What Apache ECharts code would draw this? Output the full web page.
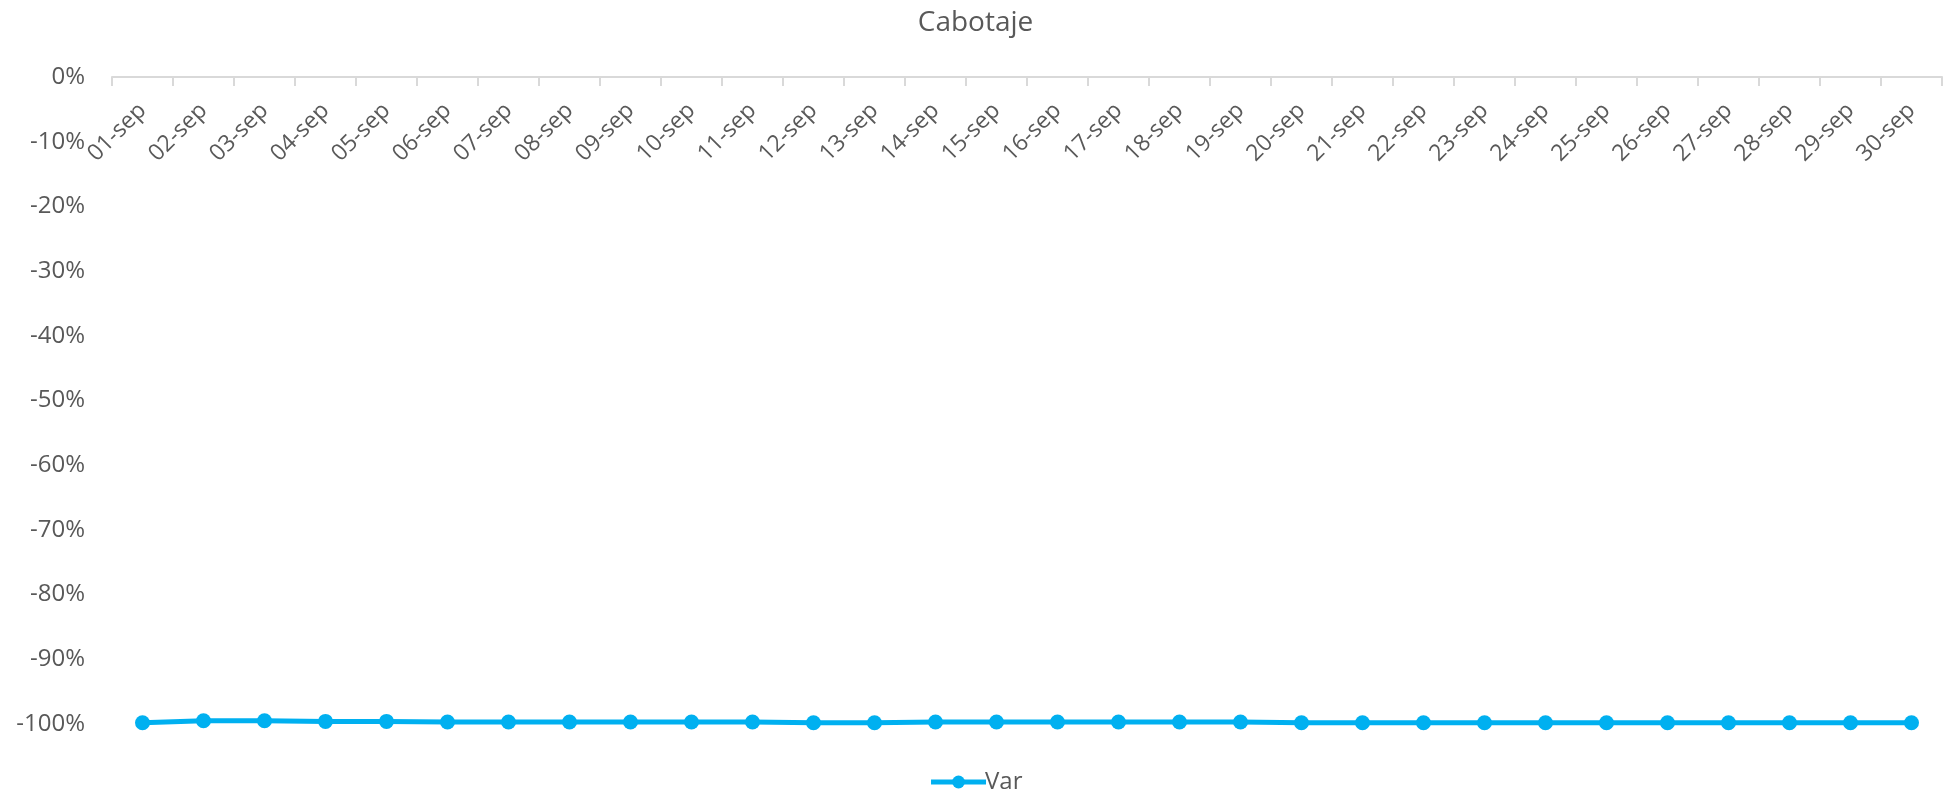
<!DOCTYPE html>
<html>
<head>
<meta charset="utf-8">
<script src="https://cdn.jsdelivr.net/npm/echarts@6/dist/echarts.min.js"></script>
<style>
html,body{margin:0;padding:0;background:#fff;}
#c{width:1951px;height:793px;}
</style>
</head>
<body>
<div id="c"></div>
<script>
const categories = ['01-sep','02-sep','03-sep','04-sep','05-sep','06-sep','07-sep','08-sep','09-sep','10-sep','11-sep','12-sep','13-sep','14-sep','15-sep','16-sep','17-sep','18-sep','19-sep','20-sep','21-sep','22-sep','23-sep','24-sep','25-sep','26-sep','27-sep','28-sep','29-sep','30-sep'];
const varValues = [-99.8,-99.5,-99.5,-99.6,-99.6,-99.7,-99.7,-99.7,-99.7,-99.7,-99.7,-99.8,-99.8,-99.7,-99.7,-99.7,-99.7,-99.7,-99.7,-99.8,-99.8,-99.8,-99.8,-99.8,-99.8,-99.8,-99.8,-99.8,-99.8,-99.8];
const seriesName = 'Var';
const titleText = 'Cabotaje';

const gridTop = 77, gridBottom = 69, H = 793;
const chart = echarts.init(document.getElementById('c'));
const font = '"Open Sans", sans-serif';
chart.setOption({
  animation: false,
  title: {
    text: titleText, left: 'center', top: 4,
    textStyle: {fontFamily: font, fontSize: 28, fontWeight: 'normal', color: '#595959'}
  },
  legend: {
    bottom: -6, left: 'center',
    itemWidth: 55, itemHeight: 16, itemGap: 10,
    lineStyle: {width: 5},
    textStyle: {fontFamily: font, fontSize: 24, color: '#595959', padding: [0,0,0,-6]},
    data: [seriesName]
  },
  grid: {left: 112, right: 9, top: gridTop, bottom: gridBottom, containLabel: false},
  xAxis: {
    type: 'category', data: categories, position: 'bottom',
    offset: -(H - gridTop - gridBottom),
    boundaryGap: true,
    axisLine: {onZero: false, lineStyle: {color: '#d9d9d9', width: 2}},
    axisTick: {show: true, length: 9, lineStyle: {color: '#d9d9d9', width: 2}},
    axisLabel: {interval: 0, rotate: 45, margin: 30, fontFamily: font, fontSize: 23, color: '#595959'},
    splitLine: {show: false}
  },
  yAxis: {
    type: 'value', min: -100, max: 0, interval: 10,
    axisLine: {show: false}, axisTick: {show: false},
    splitLine: {show: false},
    axisLabel: {formatter: '{value}%', margin: 27, fontFamily: font, fontSize: 24, color: '#595959'}
  },
  series: [{
    name: seriesName, type: 'line', data: varValues,
    symbol: 'circle', symbolSize: 15,
    lineStyle: {color: '#00B0F0', width: 5},
    itemStyle: {color: '#00B0F0'}
  }]
});
</script>
</body>
</html>
